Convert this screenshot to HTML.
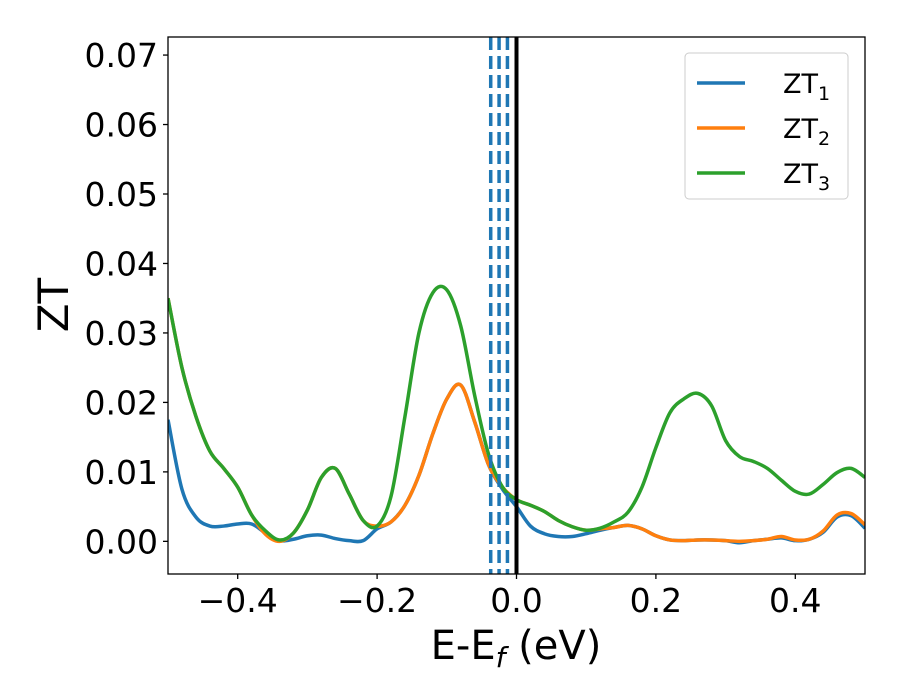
<!DOCTYPE html>
<html><head><meta charset="utf-8"><style>body{margin:0;background:#fff}svg{display:block;font-family:"DejaVu Sans","Liberation Sans",sans-serif}</style></head>
<body>
<svg id="chart" width="900" height="700"></svg>
<script>
const xs=[-0.50,-0.48,-0.46,-0.44,-0.42,-0.40,-0.38,-0.36,-0.34,-0.32,-0.30,-0.28,-0.26,-0.24,-0.22,-0.20,-0.18,-0.16,-0.14,-0.12,-0.10,-0.08,-0.06,-0.04,-0.02,0.00,0.02,0.04,0.06,0.08,0.10,0.12,0.14,0.16,0.18,0.20,0.22,0.24,0.26,0.28,0.30,0.32,0.34,0.36,0.38,0.40,0.42,0.44,0.46,0.48,0.50];
const zt1=[.0175,.0075,.0035,.0022,.0022,.0025,.0025,.0012,.0001,.0003,.0008,.0009,.0004,.0001,.0001,.0018,.0028,.0052,.0095,.0155,.0205,.0225,.0172,.011,.0075,.005,.0022,.0011,.0007,.0007,.0011,.0016,.002,.0023,.0018,.0008,.0002,.0001,.0002,.0002,.0001,-.0002,.0001,.0003,.0005,.0001,.0003,.0013,.0035,.0037,.0019];
const zt2=[.035,.025,.018,.013,.0105,.0078,.0038,.001,.0,.0012,.0045,.0092,.0105,.0068,.003,.0022,.0028,.0052,.0095,.0155,.0205,.0225,.0172,.011,.0078,.006,.0052,.0043,.003,.0021,.0016,.0018,.002,.0023,.0018,.0008,.0002,.0001,.0002,.0002,.0001,.0,.0001,.0003,.0007,.0002,.0003,.0015,.0038,.004,.0024];
const zt3=[.035,.025,.018,.013,.0105,.0078,.0038,.0015,.0002,.0012,.0045,.0092,.0105,.0068,.003,.0022,.0065,.018,.030,.0358,.0362,.031,.021,.0125,.0078,.006,.0052,.0043,.003,.0021,.0016,.0019,.0028,.0042,.0078,.0135,.0185,.0205,.0213,.0195,.0145,.0122,.0115,.0105,.0088,.0072,.0068,.0082,.0099,.0105,.0092];
const dashedX=[-0.037,-0.025,-0.013];
const xTicks=[-0.4,-0.2,0.0,0.2,0.4];
const xTickLabels=["−0.4","−0.2","0.0","0.2","0.4"];
const yTicks=[0,0.01,0.02,0.03,0.04,0.05,0.06,0.07];
const yTickLabels=["0.00","0.01","0.02","0.03","0.04","0.05","0.06","0.07"];
const L=168,R=865,T=37,B=574,X0=-0.5,X1=0.5,Y0=-0.0047,Y1=0.0726;
const sx=v=>L+(v-X0)/(X1-X0)*(R-L), sy=v=>B-(v-Y0)/(Y1-Y0)*(B-T);
const svg=document.getElementById('chart'),NS='http://www.w3.org/2000/svg';
function mk(t,a,p){const e=document.createElementNS(NS,t);for(const k in a)e.setAttribute(k,a[k]);(p||svg).appendChild(e);return e;}
const defs=mk('defs',{});const cp=mk('clipPath',{id:'c'},defs);mk('rect',{x:L,y:T,width:R-L,height:B-T},cp);
function path(ys){const p=xs.map((x,i)=>[sx(x),sy(ys[i])]);let d='M'+p[0];for(let i=0;i<p.length-1;i++){const a=p[i-1]||p[i],b=p[i],c=p[i+1],e=p[i+2]||c;d+=`C${b[0]+(c[0]-a[0])/6},${b[1]+(c[1]-a[1])/6} ${c[0]-(e[0]-b[0])/6},${c[1]-(e[1]-b[1])/6} ${c[0]},${c[1]}`;}return d;}
const colors=['#1f77b4','#ff7f0e','#2ca02c'];
[zt1,zt2,zt3].forEach((s,i)=>{const e=mk('path',{d:path(s),fill:'none',stroke:colors[i],'stroke-width':3.5,'clip-path':'url(#c)'});

});
dashedX.forEach((v,i)=>{const e=mk('line',{x1:sx(v),x2:sx(v),y1:T,y2:B,stroke:'#1f77b4','stroke-width':3.5,'stroke-dasharray':'13 6'});

});
const z=mk('line',{x1:sx(0),x2:sx(0),y1:T,y2:B,stroke:'#000','stroke-width':4});


const fr=mk('rect',{x:L,y:T,width:R-L,height:B-T,fill:'none',stroke:'#000','stroke-width':1.3});


xTicks.forEach((v,i)=>{mk('line',{x1:sx(v),x2:sx(v),y1:B,y2:B+5,stroke:'#000','stroke-width':1.3});
const t=mk('text',{x:sx(v),y:B+38,'font-size':33,'text-anchor':'middle'});t.textContent=xTickLabels[i];

});
yTicks.forEach((v,i)=>{mk('line',{x1:L-5,x2:L,y1:sy(v),y2:sy(v),stroke:'#000','stroke-width':1.3});
const t=mk('text',{x:L-10,y:sy(v)+12,'font-size':33,'text-anchor':'end'});t.textContent=yTickLabels[i];

});
</script>
<svg width="900" height="700" style="position:absolute;left:0;top:0">
<text x="516" y="659" font-size="40" text-anchor="middle">E-E<tspan font-size="28" dy="8" font-style="italic">f</tspan><tspan dy="-8"> (eV)</tspan></text>
<text transform="translate(68,305) rotate(-90)" font-size="42" text-anchor="middle">ZT</text>
<g>
<rect x="685" y="53" width="163" height="146" rx="4" fill="#fff" fill-opacity="0.8" stroke="#ccc"/>
<g><line x1="697" x2="745" y1="83" y2="83" stroke="#1f77b4" stroke-width="3.5"/><text x="783" y="93" font-size="27">ZT<tspan font-size="19" dy="7">1</tspan></text></g>
<g><line x1="697" x2="745" y1="128" y2="128" stroke="#ff7f0e" stroke-width="3.5"/><text x="783" y="138" font-size="27">ZT<tspan font-size="19" dy="7">2</tspan></text></g>
<g><line x1="697" x2="745" y1="173" y2="173" stroke="#2ca02c" stroke-width="3.5"/><text x="783" y="183" font-size="27">ZT<tspan font-size="19" dy="7">3</tspan></text></g>
</g>
</svg>
</body></html>
